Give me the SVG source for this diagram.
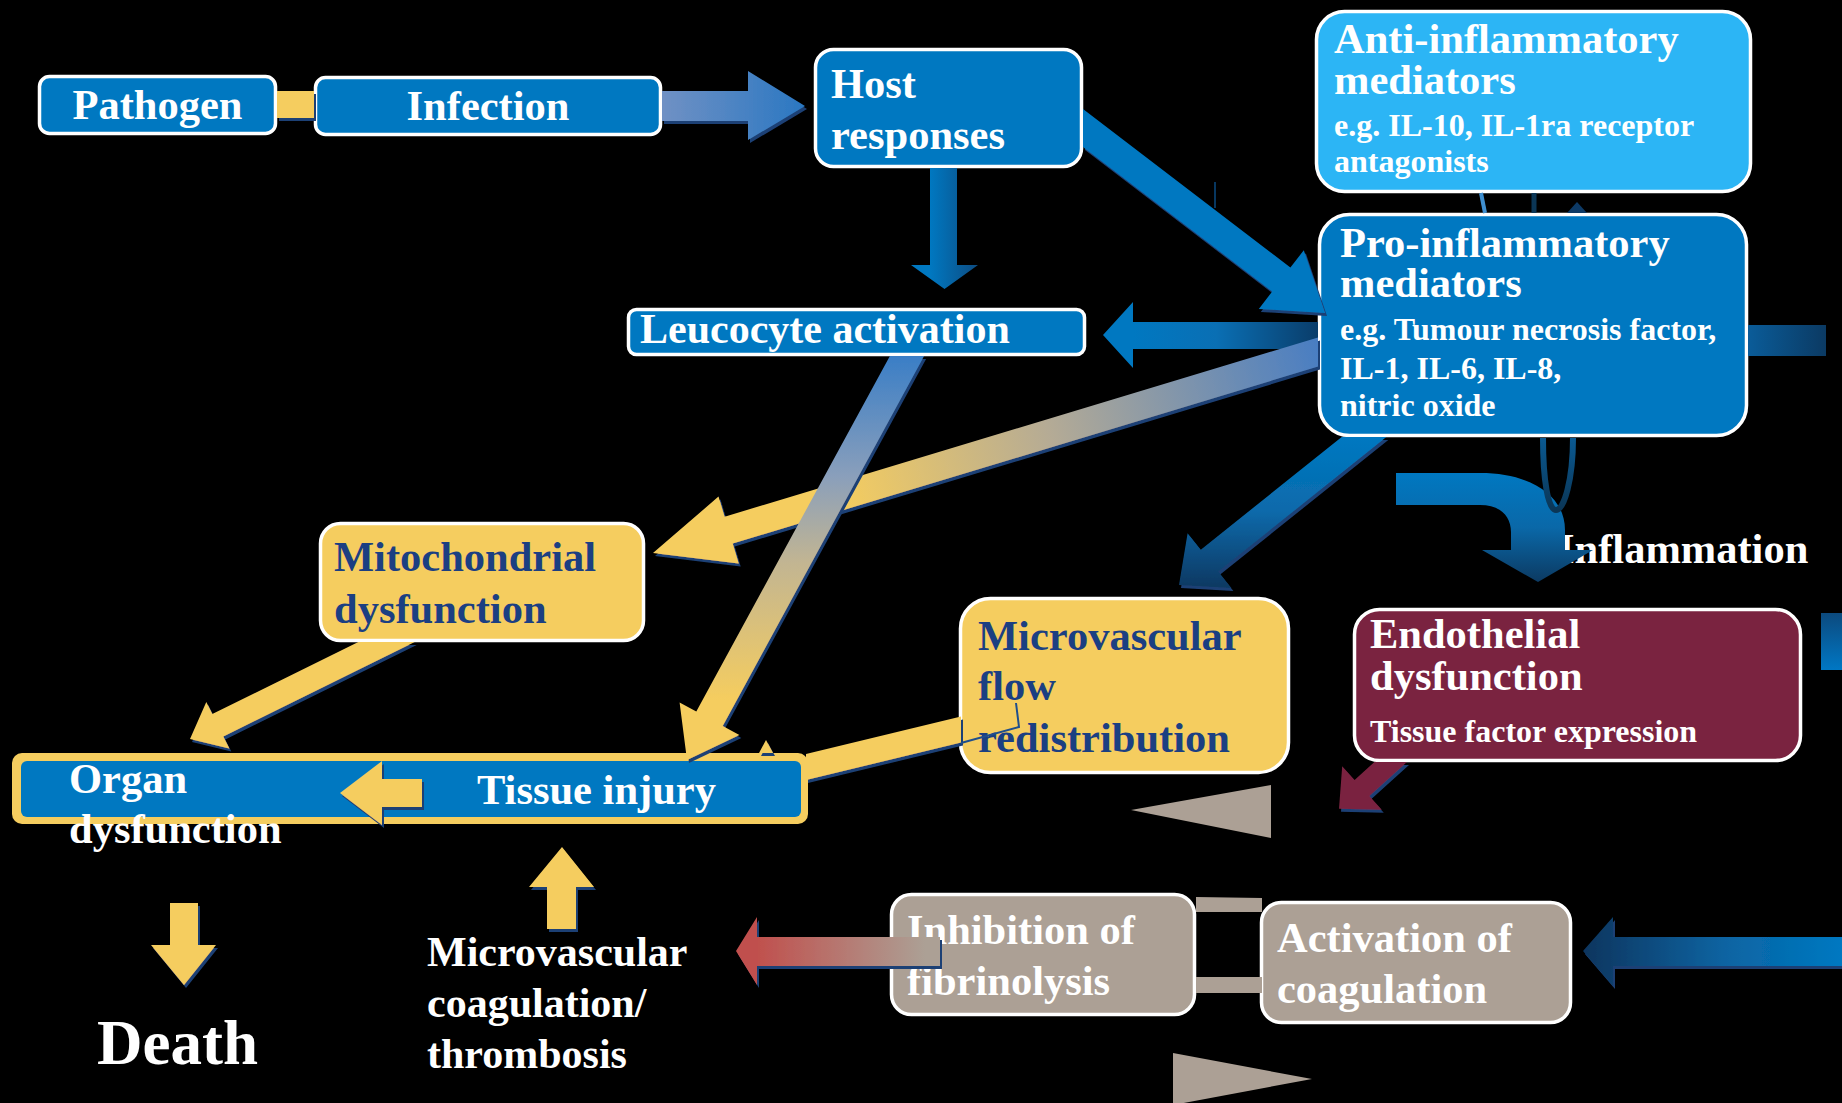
<svg xmlns="http://www.w3.org/2000/svg" width="1842" height="1103" viewBox="0 0 1842 1103">
<defs>
<style>
.t{font-family:"Liberation Serif","Times New Roman",serif;font-weight:bold;}
.w{fill:#ffffff;}
.db{fill:#1b3f82;}
.L{font-size:42.5px;}
.S{font-size:32px;}
.box{stroke:#ffffff;stroke-width:3.5;}
.blue{fill:#0078c1;}
.yel{fill:#f5cd5f;}
.beige{fill:#aca095;}
</style>
<filter id="sh" x="-20%" y="-20%" width="140%" height="140%">
<feDropShadow dx="2" dy="3" stdDeviation="0.4" flood-color="#1e3f75" flood-opacity="1"/>
</filter>
<linearGradient id="gInf" x1="662" y1="0" x2="805" y2="0" gradientUnits="userSpaceOnUse">
<stop offset="0" stop-color="#7091c4"/><stop offset="1" stop-color="#2a77c2"/>
</linearGradient>
<linearGradient id="gDown" x1="930" y1="0" x2="978" y2="0" gradientUnits="userSpaceOnUse">
<stop offset="0" stop-color="#0078c1"/><stop offset="1" stop-color="#0d4c82"/>
</linearGradient>
<linearGradient id="gLeu" x1="1133" y1="0" x2="1318" y2="0" gradientUnits="userSpaceOnUse">
<stop offset="0" stop-color="#0078c1"/><stop offset="0.45" stop-color="#0a6fb4"/><stop offset="1" stop-color="#0a3d6a"/>
</linearGradient>
<linearGradient id="gStub" x1="1748" y1="0" x2="1826" y2="0" gradientUnits="userSpaceOnUse">
<stop offset="0" stop-color="#0a5c99"/><stop offset="1" stop-color="#0b3a63"/>
</linearGradient>
<linearGradient id="gMito" x1="1318" y1="352" x2="720" y2="530" gradientUnits="userSpaceOnUse">
<stop offset="0" stop-color="#4a7ec2"/><stop offset="0.45" stop-color="#b5ab95"/><stop offset="0.8" stop-color="#f5cd5f"/><stop offset="1" stop-color="#f5cd5f"/>
</linearGradient>
<linearGradient id="gTis" x1="0" y1="356" x2="0" y2="700" gradientUnits="userSpaceOnUse">
<stop offset="0" stop-color="#3a7ec6"/><stop offset="0.35" stop-color="#8a9fbb"/><stop offset="0.6" stop-color="#c2b592"/><stop offset="1" stop-color="#f5cd5f"/>
</linearGradient>
<linearGradient id="gMic" x1="0" y1="437" x2="0" y2="585" gradientUnits="userSpaceOnUse">
<stop offset="0" stop-color="#0078c1"/><stop offset="0.5" stop-color="#0a6aab"/><stop offset="1" stop-color="#0c3a64"/>
</linearGradient>
<linearGradient id="gCurve" x1="0" y1="473" x2="0" y2="582" gradientUnits="userSpaceOnUse">
<stop offset="0" stop-color="#0078c1"/><stop offset="0.5" stop-color="#0a68a8"/><stop offset="1" stop-color="#0c3a62"/>
</linearGradient>
<linearGradient id="gRed" x1="757" y1="0" x2="925" y2="0" gradientUnits="userSpaceOnUse">
<stop offset="0" stop-color="#c0504d"/><stop offset="1" stop-color="#aca095"/>
</linearGradient>
<linearGradient id="gAct" x1="1583" y1="0" x2="1842" y2="0" gradientUnits="userSpaceOnUse">
<stop offset="0" stop-color="#0b355e"/><stop offset="0.55" stop-color="#0a64a2"/><stop offset="1" stop-color="#0078c1"/>
</linearGradient>
<linearGradient id="gEdge" x1="0" y1="613" x2="0" y2="670" gradientUnits="userSpaceOnUse">
<stop offset="0" stop-color="#0c4a7e"/><stop offset="1" stop-color="#0077c4"/>
</linearGradient>
<linearGradient id="gLoop" x1="0" y1="438" x2="0" y2="510" gradientUnits="userSpaceOnUse">
<stop offset="0" stop-color="#0a5a92"/><stop offset="1" stop-color="#0b3656"/>
</linearGradient>
</defs>
<rect x="0" y="0" width="1842" height="1103" fill="#000000"/>

<g id="pathogen">
<rect class="box blue" x="39.5" y="76.5" width="236" height="57" rx="10"/>
<text class="t w L" x="157.5" y="119" text-anchor="middle">Pathogen</text>
</g>
<g id="infection">
<rect class="box blue" x="315.5" y="77.5" width="345" height="57" rx="10"/>
<text class="t w L" x="488" y="120" text-anchor="middle">Infection</text>
</g>
<g id="host-responses">
<rect class="box blue" x="815.5" y="49.5" width="266" height="117" rx="18"/>
<text class="t w L" x="831" y="98">Host</text>
<text class="t w L" x="831" y="149">responses</text>
</g>
<g id="anti-inflammatory">
<rect class="box" fill="#2cb5f5" x="1316.5" y="11.5" width="434" height="180" rx="28"/>
<text class="t w L" x="1334" y="53">Anti-inflammatory</text>
<text class="t w L" x="1334" y="94">mediators</text>
<text class="t w S" x="1334" y="136">e.g. IL-10, IL-1ra receptor</text>
<text class="t w S" x="1334" y="172">antagonists</text>
</g>
<g id="pro-inflammatory">
<rect class="box blue" x="1319.5" y="214.5" width="427" height="221" rx="30"/>
<text class="t w L" x="1340" y="257">Pro-inflammatory</text>
<text class="t w L" x="1340" y="297">mediators</text>
<text class="t w S" x="1340" y="340">e.g. Tumour necrosis factor,</text>
<text class="t w S" x="1340" y="379">IL-1, IL-6, IL-8,</text>
<text class="t w S" x="1340" y="416">nitric oxide</text>
</g>
<g id="leucocyte-activation">
<rect class="box blue" x="628.5" y="309.5" width="456" height="45" rx="8"/>
<text class="t w" font-size="42" x="640" y="343">Leucocyte activation</text>
</g>
<g id="mitochondrial-dysfunction">
<rect class="box yel" x="320.5" y="523.5" width="323" height="117" rx="20"/>
<text class="t db L" x="334" y="571">Mitochondrial</text>
<text class="t db L" x="334" y="623">dysfunction</text>
</g>
<g id="microvascular-flow">
<rect class="box yel" x="960.5" y="598.5" width="328" height="174" rx="30"/>
<text class="t db L" x="978" y="650">Microvascular</text>
<text class="t db L" x="978" y="700">flow</text>
<text class="t db L" x="978" y="752">redistribution</text>
</g>
<g id="endothelial-dysfunction">
<rect class="box" fill="#7a2340" x="1354.5" y="609.5" width="446" height="151" rx="25"/>
<text class="t w L" x="1370" y="648">Endothelial</text>
<text class="t w L" x="1370" y="690">dysfunction</text>
<text class="t w S" x="1370" y="742">Tissue factor expression</text>
</g>
<g id="inflammation">
<text class="t w L" x="1558" y="563">Inflammation</text>
</g>
<g id="organ-dysfunction">
<rect class="yel" x="12" y="753" width="796" height="71" rx="10"/>
<rect class="blue" x="21" y="761" width="780" height="56" rx="6"/>
<text class="t w L" x="69" y="793">Organ</text>
<text class="t w L" x="69" y="843">dysfunction</text>
</g>
<g id="tissue-injury">
<text class="t w L" x="477" y="804">Tissue injury</text>
</g>
<g id="death">
<text class="t w" font-size="63" x="97" y="1064">Death</text>
</g>
<g id="microvascular-coagulation">
<text class="t w" font-size="42" x="427" y="966">Microvascular</text>
<text class="t w" font-size="42" x="427" y="1017">coagulation/</text>
<text class="t w" font-size="42" x="427" y="1068">thrombosis</text>
</g>
<g id="inhibition-fibrinolysis">
<rect class="box beige" x="891.5" y="894.5" width="303" height="120" rx="20"/>
<text class="t w L" x="907" y="944">Inhibition of</text>
<text class="t w L" x="907" y="995">fibrinolysis</text>
</g>
<g id="activation-coagulation">
<rect class="box beige" x="1261.5" y="902.5" width="309" height="120" rx="20"/>
<text class="t w L" x="1277" y="952">Activation of</text>
<text class="t w L" x="1277" y="1003">coagulation</text>
</g>

<g id="connectors">
<rect class="yel" x="277" y="91" width="37" height="27" filter="url(#sh)"/>
<polygon fill="url(#gInf)" filter="url(#sh)" points="662,91 748,91 748,71 805,106 748,140 748,121 662,121"/>
<polygon fill="url(#gDown)" points="930,168 957,168 957,265 978,265 944.5,289 911,265 930,265"/>
<polygon class="blue" filter="url(#sh)" points="1083,109.1 1290.4,267.5 1303.8,250.2 1325,313 1258.8,309 1272.2,291.5 1083,146.9"/>
<line x1="1215" y1="182" x2="1215" y2="208" stroke="#0a4a80" stroke-width="1.5"/>
<polygon fill="url(#gLeu)" points="1318,322 1133,322 1133,302 1103,335 1133,368 1133,349 1318,349"/>
<rect fill="url(#gStub)" x="1748" y="325" width="78" height="31"/>
<polygon fill="url(#gMito)" filter="url(#sh)" points="1318,337.4 724.6,516.7 718.5,496.6 653,553 738.7,563.6 732.7,543.5 1318,366.6"/>
<polygon fill="url(#gTis)" filter="url(#sh)" points="889.9,356 696.3,711.5 679.6,702.4 687,760 739.4,735 722.7,725.9 924.1,356"/>
<polygon class="yel" filter="url(#sh)" points="358.3,642 212.3,714.1 206.3,702 190,739 229.3,748.6 223.3,736.5 414.7,642"/>
<polygon fill="url(#gMic)" filter="url(#sh)" points="1341.7,437 1200.8,549.7 1187.6,533.3 1179,585 1231.4,588 1218.2,571.5 1386.3,437"/>
<polygon class="yel" filter="url(#sh)" points="961,716.5 806,754 806,780 961,742.5"/>
<polyline points="1016,703 1019,727 961,743" fill="none" stroke="#1f4e8c" stroke-width="2"/>
<polygon class="yel" filter="url(#sh)" points="759,753 766,740 773,753"/>
<polygon class="yel" filter="url(#sh)" points="340,793 382,761 382,779 422,779 422,807 382,807 382,825"/>
<polygon class="yel" filter="url(#sh)" points="170,903 198,903 198,945 216,945 184,985 151,945 170,945"/>
<polygon class="yel" filter="url(#sh)" points="562,847 594,887 576,887 576,929 547,929 547,887 529,887"/>
<polygon fill="url(#gRed)" filter="url(#sh)" points="940,937 757,937 757,917 736,951 757,985 757,966 940,966"/>
<polygon fill="url(#gAct)" filter="url(#sh)" points="1842,937 1613,937 1613,917 1583,951 1613,986 1613,966 1842,966"/>
<path class="beige" d="M1196 897 L1262 898 L1262 912 L1196 912 Z"/>
<rect class="beige" x="1196" y="977" width="66" height="16"/>
<polygon class="beige" points="1131,810 1271,785 1271,838"/>
<polygon class="beige" points="1173,1053 1312,1079 1173,1105"/>
<polygon fill="#7a2340" filter="url(#sh)" points="1374.4,762 1354.6,779.9 1342.2,766.2 1339,808.8 1381.8,809.8 1369.4,796.1 1407,762"/>
<rect fill="url(#gEdge)" x="1821" y="613" width="21" height="57"/>
<path fill="url(#gCurve)" d="M1396 473 L1480 473 C1530 473 1565 495 1565 530 L1565 550 L1593 550 L1538 582 L1482 550 L1511 550 L1511 532 C1511 516 1500 505 1480 505 L1396 505 Z"/>
<line x1="1481" y1="193" x2="1485" y2="213" stroke="#3f8fd0" stroke-width="4"/>
<line x1="1534" y1="193" x2="1534" y2="213" stroke="#0b3656" stroke-width="5"/>
<polygon fill="#0d3a66" points="1577,202 1567,213 1587,213"/>
<path d="M1543 438 C1543 480 1548 510 1556 510 C1564 510 1573 480 1573 438" fill="none" stroke="url(#gLoop)" stroke-width="6"/>
</g>
</svg>
